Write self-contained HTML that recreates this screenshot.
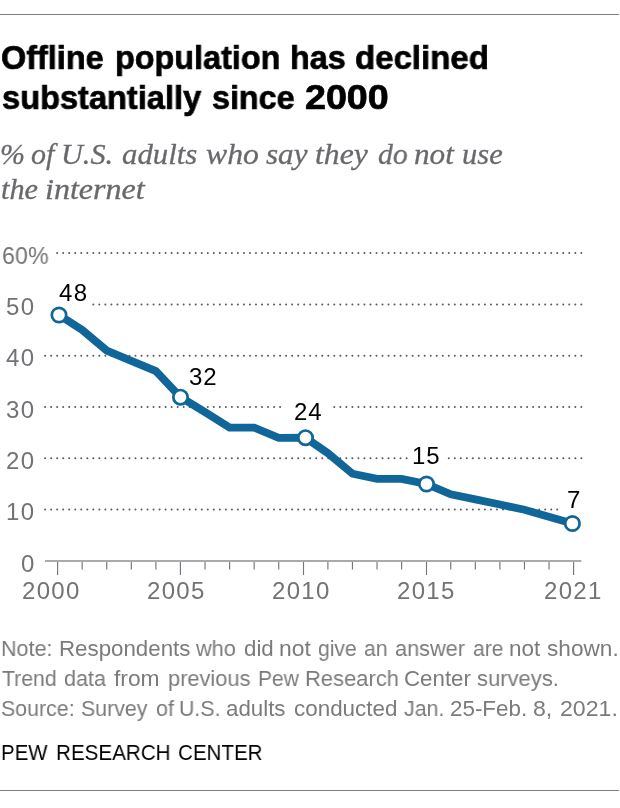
<!DOCTYPE html>
<html><head><meta charset="utf-8">
<style>
html,body{margin:0;padding:0;background:#fff;width:620px;height:808px;overflow:hidden;position:relative}
.t{position:absolute;white-space:nowrap;transform-origin:0 0;line-height:1;will-change:transform}
.title{font-family:"Liberation Sans",sans-serif;font-weight:bold;font-size:34px;color:#000;-webkit-text-stroke:0.7px #000}
.sub{font-family:"Liberation Serif",serif;font-style:italic;font-size:30px;color:#69696d;-webkit-text-stroke:0.3px #69696d}
.note{font-family:"Liberation Sans",sans-serif;font-size:22.3px;color:#7b7b7d}
.pew{font-family:"Liberation Sans",sans-serif;font-size:22px;color:#000}
.ax{font-family:"Liberation Sans",sans-serif;font-size:24px;letter-spacing:1.3px;color:#727376}
.lab{font-family:"Liberation Sans",sans-serif;font-size:24px;letter-spacing:1px;color:#000}
.hr{position:absolute;left:0;width:619px;height:1px;background:#7d7d7d}
svg{position:absolute;left:0;top:0}
</style></head><body>
<div class="hr" style="top:14px"></div>
<div class="t title" style="left:0.75px;top:39.70px;transform:scaleX(0.9533)">Offline</div>
<div class="t title" style="left:114.85px;top:39.70px;transform:scaleX(0.9517)">population</div>
<div class="t title" style="left:290.20px;top:39.70px;transform:scaleX(0.9500)">has</div>
<div class="t title" style="left:354.83px;top:39.70px;transform:scaleX(0.9706)">declined</div>
<div class="t title" style="left:1.50px;top:79.70px;transform:scaleX(0.9584)">substantially</div>
<div class="t title" style="left:211.50px;top:79.70px;transform:scaleX(0.9506)">since</div>
<div class="t title" style="left:304.70px;top:78.85px;transform:scale(1.1067,1.05)">2000</div>
<div class="t sub" style="left:-0.16px;top:139.30px;transform:scaleX(0.9806)">%</div>
<div class="t sub" style="left:31.00px;top:139.30px;transform:scaleX(1.0000)">of</div>
<div class="t sub" style="left:60.88px;top:139.30px;transform:scaleX(1.0083)">U.S.</div>
<div class="t sub" style="left:121.60px;top:139.30px;transform:scaleX(1.0260)">adults</div>
<div class="t sub" style="left:205.50px;top:139.30px;transform:scaleX(1.0580)">who</div>
<div class="t sub" style="left:265.50px;top:139.30px;transform:scaleX(1.0366)">say</div>
<div class="t sub" style="left:314.74px;top:139.30px;transform:scaleX(1.0580)">they</div>
<div class="t sub" style="left:377.70px;top:139.30px;transform:scaleX(0.9900)">do</div>
<div class="t sub" style="left:414.46px;top:139.30px;transform:scaleX(1.0410)">not</div>
<div class="t sub" style="left:461.88px;top:139.30px;transform:scaleX(1.0179)">use</div>
<div class="t sub" style="left:0.89px;top:174.10px;transform:scaleX(1.0111)">the</div>
<div class="t sub" style="left:44.93px;top:174.10px;transform:scaleX(1.0691)">internet</div>

<svg width="620" height="620" viewBox="0 0 620 620">
<line x1="57.15" y1="253.0" x2="581.43" y2="253.0" stroke="#5a5a5a" stroke-width="2" stroke-linecap="round" stroke-dasharray="0.01 6.015"/>
<line x1="93.30" y1="304.5" x2="581.43" y2="304.5" stroke="#5a5a5a" stroke-width="2" stroke-linecap="round" stroke-dasharray="0.01 6.015"/>
<line x1="45.10" y1="355.8" x2="581.43" y2="355.8" stroke="#5a5a5a" stroke-width="2" stroke-linecap="round" stroke-dasharray="0.01 6.015"/>
<line x1="45.10" y1="407.1" x2="280.18" y2="407.1" stroke="#5a5a5a" stroke-width="2" stroke-linecap="round" stroke-dasharray="0.01 6.015"/>
<line x1="334.30" y1="407.1" x2="581.43" y2="407.1" stroke="#5a5a5a" stroke-width="2" stroke-linecap="round" stroke-dasharray="0.01 6.015"/>
<line x1="45.10" y1="458.3" x2="406.70" y2="458.3" stroke="#5a5a5a" stroke-width="2" stroke-linecap="round" stroke-dasharray="0.01 6.015"/>
<line x1="448.78" y1="458.3" x2="581.43" y2="458.3" stroke="#5a5a5a" stroke-width="2" stroke-linecap="round" stroke-dasharray="0.01 6.015"/>
<line x1="45.10" y1="509.5" x2="557.33" y2="509.5" stroke="#5a5a5a" stroke-width="2" stroke-linecap="round" stroke-dasharray="0.01 6.015"/>
<line x1="45" y1="561" x2="581.3" y2="561" stroke="#a9aaae" stroke-width="2.1"/>
<line x1="57.60" y1="562" x2="57.60" y2="575" stroke="#74767b" stroke-width="1.15"/>
<line x1="82.17" y1="562" x2="82.17" y2="569.5" stroke="#74767b" stroke-width="1.15"/>
<line x1="106.74" y1="562" x2="106.74" y2="569.5" stroke="#74767b" stroke-width="1.15"/>
<line x1="131.31" y1="562" x2="131.31" y2="569.5" stroke="#74767b" stroke-width="1.15"/>
<line x1="155.89" y1="562" x2="155.89" y2="569.5" stroke="#74767b" stroke-width="1.15"/>
<line x1="180.40" y1="562" x2="180.40" y2="575" stroke="#74767b" stroke-width="1.15"/>
<line x1="205.03" y1="562" x2="205.03" y2="569.5" stroke="#74767b" stroke-width="1.15"/>
<line x1="229.60" y1="562" x2="229.60" y2="569.5" stroke="#74767b" stroke-width="1.15"/>
<line x1="254.17" y1="562" x2="254.17" y2="569.5" stroke="#74767b" stroke-width="1.15"/>
<line x1="278.74" y1="562" x2="278.74" y2="569.5" stroke="#74767b" stroke-width="1.15"/>
<line x1="303.50" y1="562" x2="303.50" y2="575" stroke="#74767b" stroke-width="1.15"/>
<line x1="327.89" y1="562" x2="327.89" y2="569.5" stroke="#74767b" stroke-width="1.15"/>
<line x1="352.46" y1="562" x2="352.46" y2="569.5" stroke="#74767b" stroke-width="1.15"/>
<line x1="377.03" y1="562" x2="377.03" y2="569.5" stroke="#74767b" stroke-width="1.15"/>
<line x1="401.60" y1="562" x2="401.60" y2="569.5" stroke="#74767b" stroke-width="1.15"/>
<line x1="426.50" y1="562" x2="426.50" y2="575" stroke="#74767b" stroke-width="1.15"/>
<line x1="450.74" y1="562" x2="450.74" y2="569.5" stroke="#74767b" stroke-width="1.15"/>
<line x1="475.31" y1="562" x2="475.31" y2="569.5" stroke="#74767b" stroke-width="1.15"/>
<line x1="499.89" y1="562" x2="499.89" y2="569.5" stroke="#74767b" stroke-width="1.15"/>
<line x1="524.46" y1="562" x2="524.46" y2="569.5" stroke="#74767b" stroke-width="1.15"/>
<line x1="549.03" y1="562" x2="549.03" y2="569.5" stroke="#74767b" stroke-width="1.15"/>
<line x1="573.60" y1="562" x2="573.60" y2="575" stroke="#74767b" stroke-width="1.15"/>
<path d="M59.0,315.0 L82.17,330.0 L106.74,350.53 L131.31,360.8 L155.89,371.07 L180.5,397.2 L205.03,412.13 L229.6,427.53 L254.17,427.53 L278.74,437.8 L305.5,437.7 L327.89,453.2 L352.46,473.73 L377.03,478.87 L401.6,478.87 L426.5,484.0 L450.74,494.27 L475.31,499.4 L499.89,504.53 L524.46,509.67 L572.4,523.5" fill="none" stroke="#106599" stroke-width="7.8" stroke-linejoin="miter"/>
<circle cx="59.0" cy="315.0" r="7.2" fill="#fff" stroke="#106599" stroke-width="2.7"/>
<circle cx="180.5" cy="397.2" r="7.2" fill="#fff" stroke="#106599" stroke-width="2.7"/>
<circle cx="305.5" cy="437.7" r="7.2" fill="#fff" stroke="#106599" stroke-width="2.7"/>
<circle cx="426.5" cy="484.0" r="7.2" fill="#fff" stroke="#106599" stroke-width="2.7"/>
<circle cx="572.4" cy="523.5" r="7.2" fill="#fff" stroke="#106599" stroke-width="2.7"/>

</svg>
<div class="t ax" style="left:2px;top:243.5px;letter-spacing:0.2px;transform:scaleX(0.965)">60%</div>
<div class="t ax" style="left:6px;top:294.5px">50</div>
<div class="t ax" style="left:6px;top:345.5px">40</div>
<div class="t ax" style="left:6px;top:397.5px">30</div>
<div class="t ax" style="left:6px;top:448.5px">20</div>
<div class="t ax" style="left:6px;top:499.5px">10</div>
<div class="t ax" style="left:21px;top:551.5px">0</div>
<div class="t ax" style="left:22px;top:579px">2000</div>
<div class="t ax" style="left:147px;top:579px">2005</div>
<div class="t ax" style="left:272px;top:579px">2010</div>
<div class="t ax" style="left:397px;top:579px">2015</div>
<div class="t ax" style="left:544px;top:579px">2021</div>
<div class="t lab" style="left:59px;top:281px;letter-spacing:1.5px">48</div>
<div class="t lab" style="left:189px;top:365px">32</div>
<div class="t lab" style="left:294px;top:400px">24</div>
<div class="t lab" style="left:412px;top:444px">15</div>
<div class="t lab" style="left:567px;top:488px">7</div>

<div class="t note" style="left:1.03px;top:638.20px;transform:scaleX(0.9667)">Note:</div>
<div class="t note" style="left:59.00px;top:638.20px;transform:scaleX(1.0000)">Respondents</div>
<div class="t note" style="left:196.30px;top:638.20px;transform:scaleX(0.9756)">who</div>
<div class="t note" style="left:243.80px;top:638.20px;transform:scaleX(0.9897)">did</div>
<div class="t note" style="left:279.26px;top:638.20px;transform:scaleX(1.0245)">not</div>
<div class="t note" style="left:318.16px;top:638.20px;transform:scaleX(0.9457)">give</div>
<div class="t note" style="left:363.70px;top:638.20px;transform:scaleX(0.9457)">an</div>
<div class="t note" style="left:395.00px;top:638.20px;transform:scaleX(0.9736)">answer</div>
<div class="t note" style="left:472.57px;top:638.20px;transform:scaleX(0.9457)">are</div>
<div class="t note" style="left:509.29px;top:638.20px;transform:scaleX(1.0067)">not</div>
<div class="t note" style="left:547.30px;top:638.20px;transform:scaleX(1.0145)">shown.</div>
<div class="t note" style="left:2.00px;top:668.10px;transform:scaleX(0.9526)">Trend</div>
<div class="t note" style="left:63.80px;top:668.10px;transform:scaleX(0.9659)">data</div>
<div class="t note" style="left:113.75px;top:668.10px;transform:scaleX(1.0228)">from</div>
<div class="t note" style="left:167.82px;top:668.10px;transform:scaleX(0.9783)">previous</div>
<div class="t note" style="left:257.56px;top:668.10px;transform:scaleX(0.9441)">Pew</div>
<div class="t note" style="left:305.32px;top:668.10px;transform:scaleX(0.9840)">Research</div>
<div class="t note" style="left:404.01px;top:668.10px;transform:scaleX(0.9939)">Center</div>
<div class="t note" style="left:477.40px;top:668.10px;transform:scaleX(0.9866)">surveys.</div>
<div class="t note" style="left:1.03px;top:698.00px;transform:scaleX(0.9577)">Source:</div>
<div class="t note" style="left:81.00px;top:698.00px;transform:scaleX(0.9577)">Survey</div>
<div class="t note" style="left:155.50px;top:698.00px;transform:scaleX(0.9632)">of</div>
<div class="t note" style="left:178.81px;top:698.00px;transform:scaleX(0.9577)">U.S.</div>
<div class="t note" style="left:226.30px;top:698.00px;transform:scaleX(0.9949)">adults</div>
<div class="t note" style="left:293.80px;top:698.00px;transform:scaleX(1.0049)">conducted</div>
<div class="t note" style="left:403.52px;top:698.00px;transform:scaleX(0.9577)">Jan.</div>
<div class="t note" style="left:450.00px;top:698.00px;transform:scaleX(1.0040)">25-Feb.</div>
<div class="t note" style="left:533.31px;top:698.00px;transform:scaleX(1.0375)">8,</div>
<div class="t note" style="left:559.72px;top:698.00px;transform:scaleX(1.0375)">2021.</div>
<div class="t pew" style="left:0.77px;top:742.00px;transform:scaleX(0.9286)">PEW</div>
<div class="t pew" style="left:55.66px;top:742.00px;transform:scaleX(0.9375)">RESEARCH</div>
<div class="t pew" style="left:177.87px;top:742.00px;transform:scaleX(0.9348)">CENTER</div>
<div class="hr" style="top:790px"></div>
</body></html>
